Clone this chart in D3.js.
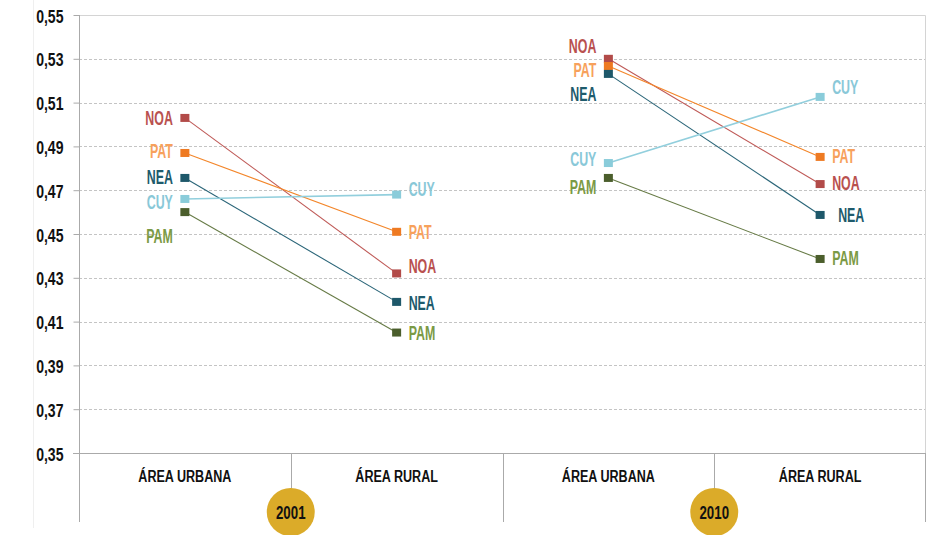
<!DOCTYPE html>
<html lang="es">
<head>
<meta charset="utf-8">
<title>Urbano / rural 2001 - 2010</title>
<script src="https://cdn.jsdelivr.net/npm/d3@7"></script>
<style>
  body { margin: 0; background: #fff; }
  text { font-family: "Liberation Sans", Arial, sans-serif; font-weight: bold; }
  .tick-lbl { font-size: 19px; fill: #111; }
  .cat-lbl { font-size: 17px; fill: #111; }
  .reg-lbl { font-size: 20px; }
  .year-lbl { font-size: 19px; fill: #111; }
</style>
</head>
<body>
<svg width="941" height="535"></svg>
<script>
// datos
const regiones = ["NOA", "PAT", "NEA", "CUY", "PAM"];
const anios = ["2001", "2010"];
const areas = ["ÁREA URBANA", "ÁREA RURAL"];
const urbana2001 = [0.503, 0.487, 0.4756, 0.466, 0.460];
const rural2001  = [0.432, 0.451, 0.419, 0.468, 0.405];
const urbana2010 = [0.530, 0.5267, 0.5231, 0.4824, 0.4756];
const rural2010  = [0.4728, 0.4852, 0.4587, 0.5126, 0.4386];
const yTicks = [0.35, 0.37, 0.39, 0.41, 0.43, 0.45, 0.47, 0.49, 0.51, 0.53, 0.55];

// colores
const colorLinea = { NOA: "#bf5a57", PAT: "#f3862a", NEA: "#2a6578", CUY: "#92cfdd", PAM: "#667a45" };
const colorMarca = { NOA: "#b24b49", PAT: "#ee7a22", NEA: "#1e586a", CUY: "#8accda", PAM: "#4b5e2c" };
const colorTexto = { NOA: "#b9514f", PAT: "#f7a15c", NEA: "#1e5b6c", CUY: "#89c8d8", PAM: "#7b9a45" };

// pequeños desplazamientos de etiquetas (px) para que no se pisen
const ajusteEtiqueta = [
  { NOA: 0, PAT: -2, NEA: -1, CUY: 3, PAM: 24 },
  { NOA: -7, PAT: 0, NEA: 1, CUY: -6, PAM: 0 },
  { NOA: -13, PAT: 4, NEA: 20, CUY: -4, PAM: 9 },
  { NOA: -1, PAT: -1, NEA: 0, CUY: -10, PAM: -1 }
];

const series = [urbana2001, rural2001, urbana2010, rural2010];
const claves = ["u2001", "r2001", "u2010", "r2010"];

const svg = d3.select("svg");

const x = d3.scaleBand().domain(claves).range([79, 926]);
const y = d3.scaleLinear().domain([0.35, 0.55]).range([453, 15]);

// no hay fuente condensada: se comprime el texto en horizontal
function condensar(sel, k) {
  sel.each(function () {
    const t = d3.select(this);
    const tx = +t.attr("x") || 0, ty = +t.attr("y") || 0;
    t.attr("x", 0).attr("y", 0)
     .attr("transform", `translate(${tx},${ty}) scale(${k},1)`);
  });
}

// linea vertical tenue a la izquierda
svg.append("line")
  .attr("x1", 33.5).attr("x2", 33.5).attr("y1", 0).attr("y2", 528)
  .attr("stroke", "#efefef");

// grilla
svg.append("g")
  .selectAll("line")
  .data(yTicks.slice(1, -1))
  .enter()
  .append("line")
    .attr("x1", 79).attr("x2", 926)
    .attr("y1", d => Math.round(y(d)) + 0.5)
    .attr("y2", d => Math.round(y(d)) + 0.5)
    .attr("stroke", "#c4c4c4")
    .attr("stroke-dasharray", "3,2");

// borde superior y derecho
svg.append("path")
  .attr("d", `M79,${y(0.55) + 0.5}H925.5V${y(0.35)}`)
  .attr("fill", "none")
  .attr("stroke", "#d4d4d4");

// eje Y
const ejeY = d3.axisLeft(y)
  .tickValues(yTicks)
  .tickSize(6)
  .tickPadding(9)
  .tickFormat(d => d3.format(".2f")(d).replace(".", ","));

const gY = svg.append("g")
  .attr("transform", "translate(79.5,0)")
  .call(ejeY);
gY.select(".domain").remove();
gY.selectAll(".tick line").attr("stroke", "#aaa");
gY.selectAll(".tick text")
  .attr("class", "tick-lbl")
  .attr("font-family", null).attr("font-size", null)
  .attr("dy", null).attr("y", 7);
condensar(gY.selectAll(".tick text").attr("x", -16), 0.74);

svg.append("line")
  .attr("x1", 79.5).attr("x2", 79.5).attr("y1", 15).attr("y2", 522)
  .attr("stroke", "#aaa");
svg.append("line")
  .attr("x1", 73).attr("x2", 926).attr("y1", y(0.35) + 0.5).attr("y2", y(0.35) + 0.5)
  .attr("stroke", "#aaa");

// separadores de categorias
svg.append("g")
  .selectAll("line")
  .data(claves.slice(1))
  .enter()
  .append("line")
    .attr("x1", d => Math.round(x(d)) + 0.5)
    .attr("x2", d => Math.round(x(d)) + 0.5)
    .attr("y1", 453)
    .attr("y2", (d, i) => i % 2 === 0 ? 495 : 522)
    .attr("stroke", "#aaa");
svg.append("line")
  .attr("x1", 925.5).attr("x2", 925.5).attr("y1", 453).attr("y2", 522)
  .attr("stroke", "#aaa");

// etiquetas de categoria
const catLbl = svg.append("g")
  .selectAll("text")
  .data(claves)
  .enter()
  .append("text")
    .attr("class", "cat-lbl")
    .attr("text-anchor", "middle")
    .attr("x", d => x(d) + x.bandwidth() / 2)
    .attr("y", 482)
    .text((d, i) => areas[i % 2]);
condensar(catLbl, 0.74);

// circulos de año
const gAnio = svg.append("g")
  .selectAll("g")
  .data(anios)
  .enter()
  .append("g")
    .attr("transform", (d, i) => `translate(${x(claves[i * 2 + 1])},512)`);
gAnio.append("circle").attr("r", 24).attr("fill", "#dbab29");
condensar(gAnio.append("text")
  .attr("class", "year-lbl")
  .attr("text-anchor", "middle")
  .attr("y", 7)
  .text(d => d), 0.7);

const cx = k => x(k) + x.bandwidth() / 2;

// lineas
[0, 2].forEach(function (s) {
  svg.append("g")
    .selectAll("line")
    .data(regiones)
    .enter()
    .append("line")
      .attr("x1", cx(claves[s]))
      .attr("y1", (d, i) => y(series[s][i]))
      .attr("x2", cx(claves[s + 1]))
      .attr("y2", (d, i) => y(series[s + 1][i]))
      .attr("stroke", d => colorLinea[d])
      .attr("stroke-width", d => d === "CUY" ? 1.6 : 1.1);
});

// marcadores y etiquetas
series.forEach(function (valores, s) {
  const g = svg.append("g");
  const px = cx(claves[s]);
  const urbana = s % 2 === 0;

  g.selectAll("rect")
    .data(regiones)
    .enter()
    .append("rect")
      .attr("x", px - 4.5)
      .attr("y", (d, i) => y(valores[i]) - 4)
      .attr("width", 9)
      .attr("height", 8)
      .attr("fill", d => colorMarca[d]);

  const lbl = g.selectAll("text")
    .data(regiones)
    .enter()
    .append("text")
      .attr("class", "reg-lbl")
      .attr("text-anchor", urbana ? "end" : "start")
      .attr("x", d => urbana ? px - 12 : px + 12 + (s === 3 && d === "NEA" ? 6 : 0))
      .attr("y", (d, i) => y(valores[i]) + ajusteEtiqueta[s][d] + 7)
      .attr("fill", d => colorTexto[d])
      .text(d => d);
  condensar(lbl, 0.62);
});
</script>
</body>
</html>
